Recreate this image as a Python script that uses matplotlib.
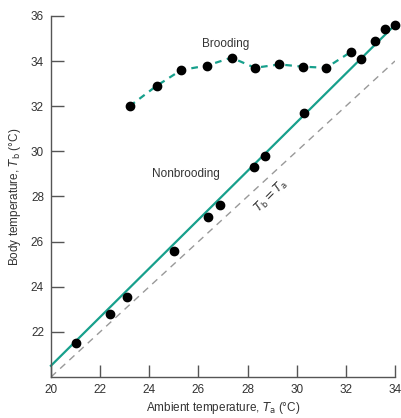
import matplotlib
matplotlib.use("Agg")
import matplotlib.pyplot as plt
from matplotlib import font_manager

# data
brood_ta = [23.2, 24.3, 25.3, 26.35, 27.35, 28.3, 29.3, 30.25, 31.2, 32.2]
brood_tb = [32.0, 32.9, 33.6, 33.8, 34.15, 33.7, 33.85, 33.75, 33.7, 34.4]

nonbrood_ta = [21.0, 22.4, 23.1, 25.0, 26.4, 26.9, 28.25, 28.7, 30.3, 32.6, 33.2, 33.6, 34.0]
nonbrood_tb = [21.5, 22.8, 23.55, 25.6, 27.1, 27.6, 29.3, 29.8, 31.7, 34.1, 34.9, 35.4, 35.6]

fit_ta = [20.0, 34.0]
fit_tb = [20.5, 35.6]

equal_ta = [20.0, 34.0]
equal_tb = [20.0, 34.0]

xticks = [20, 22, 24, 26, 28, 30, 32, 34]
yticks = [22, 24, 26, 28, 30, 32, 34, 36]

teal = "#17a08c"

names = {f.name for f in font_manager.fontManager.ttflist}
if "Liberation Sans Narrow" in names:
    plt.rcParams["font.family"] = ["Liberation Sans Narrow", "DejaVu Sans"]
else:
    plt.rcParams["font.family"] = ["Liberation Sans", "DejaVu Sans"]

fig = plt.figure(figsize=(4.01, 4.18), dpi=100)
ax = fig.add_axes([0.127, 0.098, 0.858, 0.864])

ax.plot(equal_ta, equal_tb, color="#999999", lw=1.0, ls=(0, (5, 4)), zorder=1)
ax.plot(fit_ta, fit_tb, color=teal, lw=1.6, zorder=2, clip_on=False)
ax.plot(brood_ta, brood_tb, color=teal, lw=1.6, ls=(0, (3, 2.5)), zorder=2)
ax.plot(brood_ta, brood_tb, "o", color="black", ms=6, zorder=3)
ax.plot(nonbrood_ta, nonbrood_tb, "o", color="black", ms=6, zorder=3, clip_on=False)

ax.set_xlim(20, 34)
ax.set_ylim(20, 36)
ax.set_xticks(xticks)
ax.set_yticks(yticks)
ax.spines["top"].set_visible(False)
ax.spines["right"].set_visible(False)
for s in ("left", "bottom"):
    ax.spines[s].set_color("#555555")
    ax.spines[s].set_linewidth(1.0)
ax.tick_params(direction="in", length=9, width=1.0, color="#555555",
               labelsize=8.5, labelcolor="#333333", pad=5)

ax.set_xlabel(r"Ambient temperature, $\mathit{T}_{\mathrm{a}}$ (°C)", fontsize=8.5,
              color="#333333", labelpad=3)
ax.set_ylabel(r"Body temperature, $\mathit{T}_{\mathrm{b}}$ (°C)", fontsize=8.5,
              color="#333333", labelpad=6)

ax.text(27.1, 34.75, "Brooding", fontsize=8.5, color="#333333", ha="center", va="center")
ax.text(25.5, 29.0, "Nonbrooding", fontsize=8.5, color="#333333", ha="center", va="center")
ax.text(28.95, 28.0, r"$\mathit{T}_{\mathrm{b}} = \mathit{T}_{\mathrm{a}}$", fontsize=8.5,
        color="#333333", ha="center", va="center", rotation=45)

fig.savefig("out.png", dpi=100)
